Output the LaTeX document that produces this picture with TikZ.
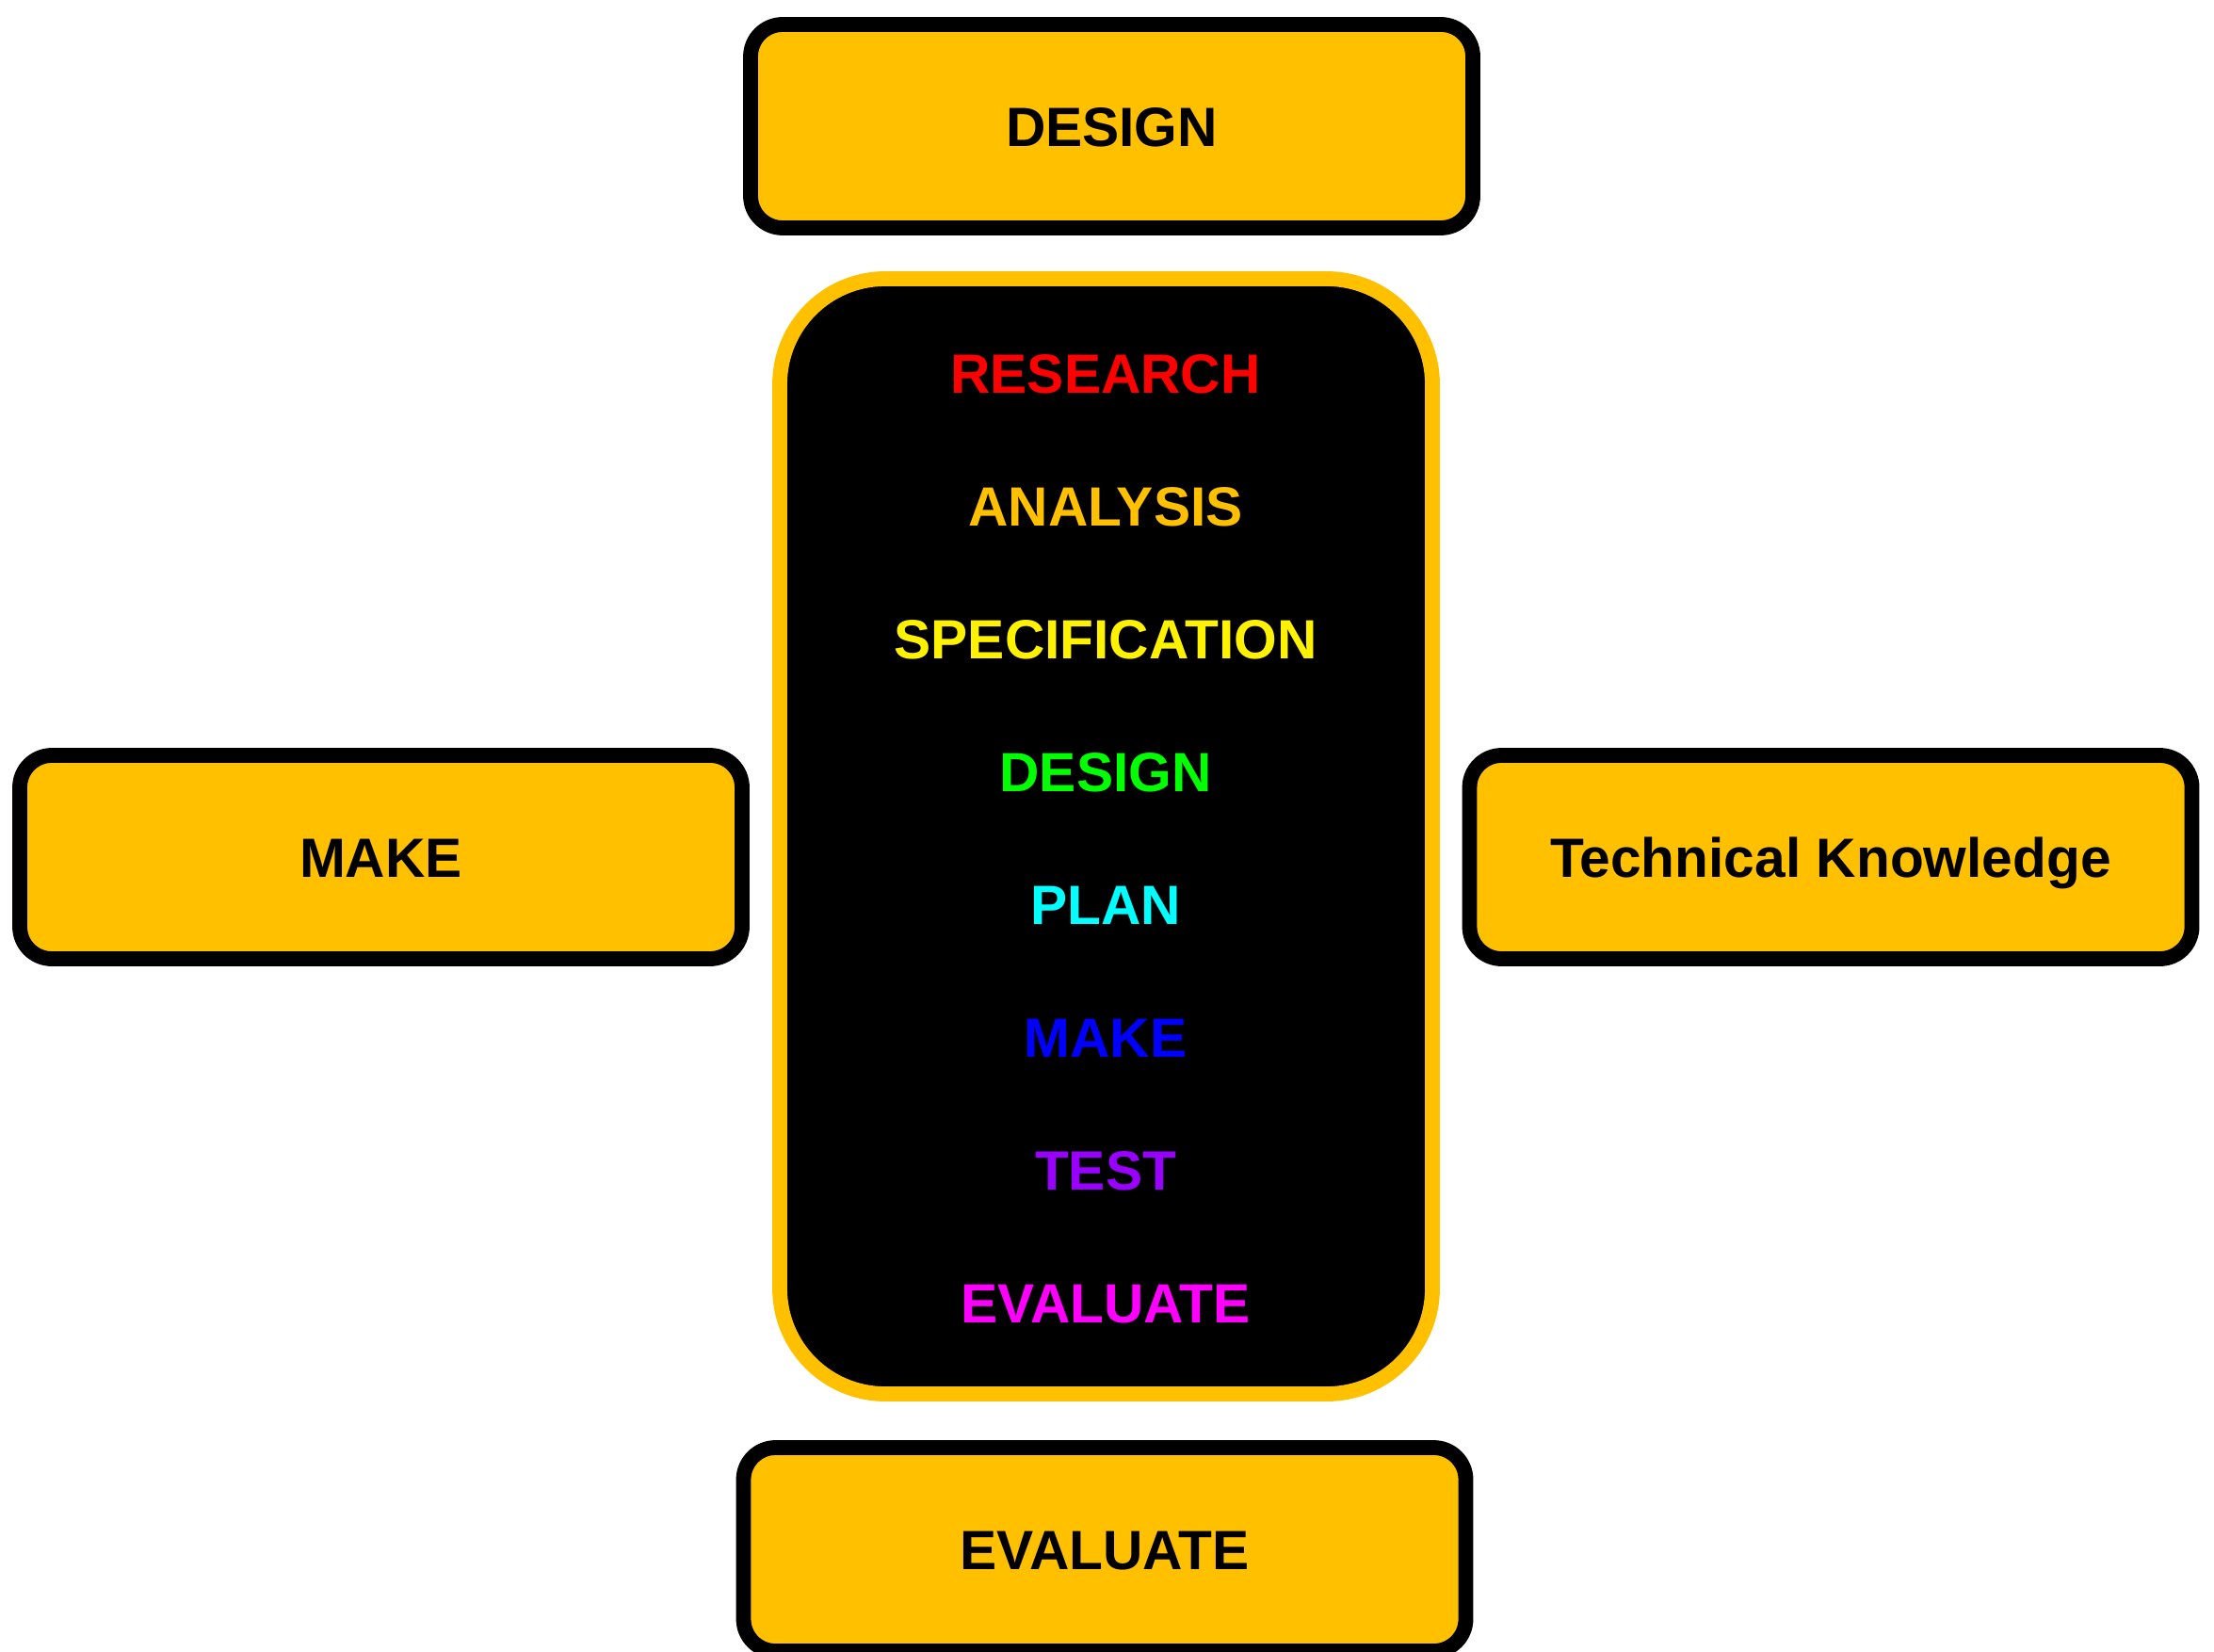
\documentclass[tikz,border=0pt]{standalone}
\usepackage{fontspec}
\setmainfont{Liberation Sans}
\usetikzlibrary{positioning}
\definecolor{amber}{HTML}{FFC000}
\definecolor{planblue}{HTML}{00FFFF}
\definecolor{testviolet}{HTML}{9900FF}
\definecolor{evalpink}{HTML}{FF00FF}
\tikzset{
    stage/.style={draw=black,line width=4.5pt,fill=amber,rounded corners=0.34cm,
        minimum width=7.67cm,minimum height=2.16cm,inner sep=0pt,
        text height=12pt,text depth=0pt,
        font=\fontsize{16.7}{20}\selectfont\bfseries},
    cycle/.style={draw=amber,line width=4.5pt,fill=black,rounded corners=1.12cm,
        minimum width=6.93cm,minimum height=11.84cm,inner sep=0pt},
    phase/.style={inner sep=0pt,text height=12pt,text depth=0pt,
        font=\fontsize{16.7}{20}\selectfont\bfseries}
}
\begin{document}
\begin{tikzpicture}
    \useasboundingbox (0, 0) rectangle (23.51, -17.53);
    \node[stage] (design) at (11.805, -1.34) {DESIGN};
    \node[stage] (make) at (4.045, -9.10) {MAKE};
    \node[stage] (knowledge) at (19.44, -9.10) {Technical Knowledge};
    \node[stage] (evaluate) at (11.73, -16.45) {EVALUATE};

    \node[cycle] (cycle) at (11.745, -8.88) {};
        \node[phase,text=red] (research) at (11.74, -3.965) {RESEARCH};
        \node[phase,text=amber] (analysis) at (11.74, -5.375) {ANALYSIS};
        \node[phase,text=yellow] (spec) at (11.74, -6.785) {SPECIFICATION};
        \node[phase,text=green] (designstep) at (11.74, -8.195) {DESIGN};
        \node[phase,text=planblue] (plan) at (11.74, -9.605) {PLAN};
        \node[phase,text=blue] (makestep) at (11.74, -11.015) {MAKE};
        \node[phase,text=testviolet] (test) at (11.74, -12.425) {TEST};
        \node[phase,text=evalpink] (evalstep) at (11.74, -13.835) {EVALUATE};
\end{tikzpicture}
\end{document}
